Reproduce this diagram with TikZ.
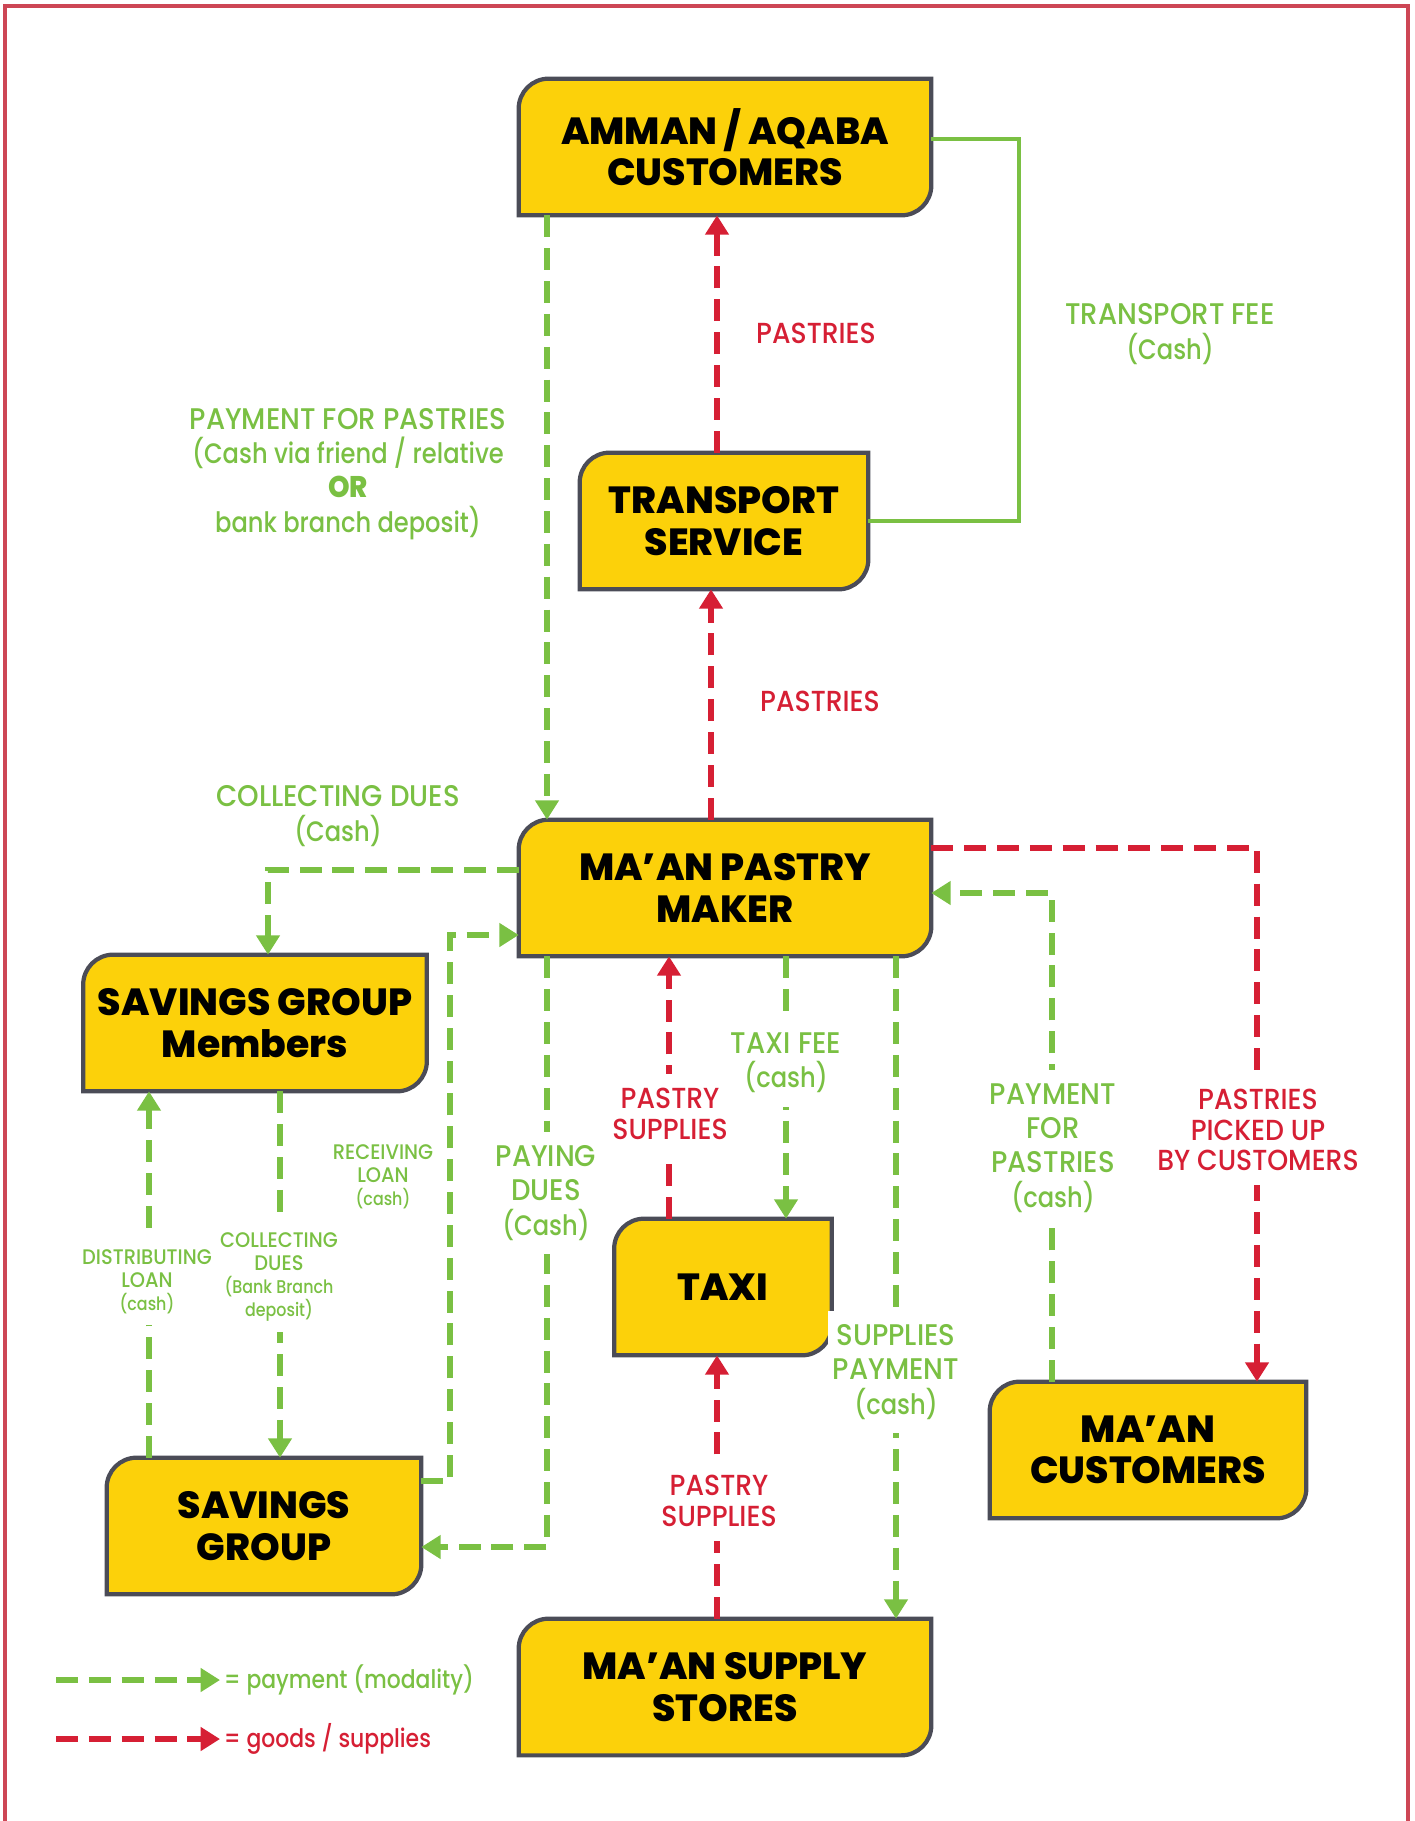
\documentclass[tikz,border=0pt]{standalone}
\usepackage{fontspec}
\setmainfont{Poppins}
\newfontfamily\boxfont{Poppins ExtraBold}
\newfontfamily\labelfont{Poppins Medium}[FakeStretch=0.92]
\newfontfamily\lcfont{Poppins Medium}[FakeStretch=0.86]
\newcommand{\lc}[1]{{\lcfont\fontsize{16}{19.5}\selectfont #1}}
\newcommand{\lcs}[1]{{\lcfont\fontsize{10.5}{13}\selectfont #1}}
\usepackage{tikz}
\usetikzlibrary{arrows.meta, positioning, backgrounds}

\definecolor{payGreen}{RGB}{122,192,67}
\definecolor{goodsRed}{RGB}{214,31,52}
\definecolor{boxYellow}{RGB}{252,209,10}
\definecolor{boxEdge}{RGB}{75,76,87}
\definecolor{frameRed}{RGB}{205,70,85}

\tikzset{
  actor/.style={
    rectangle, inner sep=0pt, minimum height=2.72cm, align=center,
    font=\boxfont\fontsize{21.5}{23.5}\selectfont
  },
  actorshape/.style={fill=boxYellow, draw=boxEdge, line width=2.4pt},
  paylabel/.style={
    text=payGreen, fill=white, align=center, inner xsep=3pt, inner ysep=8pt,
    font=\labelfont\fontsize{17}{19.5}\selectfont
  },
  goodslabel/.style={
    text=goodsRed, fill=white, align=center, inner xsep=3pt, inner ysep=8pt,
    font=\labelfont\fontsize{16.5}{17.5}\selectfont
  },
  smalllabel/.style={
    text=payGreen, fill=white, align=center, inner xsep=2pt, inner ysep=6pt,
    font=\labelfont\fontsize{12}{13}\selectfont
  },
  legendtext/.style={inner sep=2pt, anchor=west, font=\lcfont\fontsize{14.5}{18}\selectfont},
  pay/.style={-{Triangle[width=13pt,length=11pt]}, draw=payGreen,
    line width=3pt, dash pattern=on 12.5pt off 6.2pt},
  goods/.style={-{Triangle[width=13pt,length=11pt]}, draw=goodsRed,
    line width=3pt, dash pattern=on 12.5pt off 6.2pt},
  fee/.style={draw=payGreen, line width=2.3pt},
  frame/.style={draw=frameRed, line width=1.8pt},
}

\begin{document}
\begin{tikzpicture}[x=0.02cm, y=-0.02cm]
  \useasboundingbox (0,0) rectangle (1414,1821);
  \draw[frame] (5,1821) -- (5,6) -- (1408,6) -- (1408,1821);

  % actors
  \node[actor, minimum width=8.24cm] (amman) at (725,147) {AMMAN / AQABA\\CUSTOMERS};
  \node[actor, minimum width=5.76cm] (transport) at (724,521) {TRANSPORT\\SERVICE};
  \node[actor, minimum width=8.24cm] (maker) at (725,888) {MA’AN PASTRY\\MAKER};
  \node[actor, minimum width=6.86cm] (sgmem) at (255,1023) {SAVINGS GROUP\\Members};
  \node[actor, minimum width=4.34cm] (taxi) at (723,1287) {TAXI};
  \node[actor, minimum width=6.28cm] (sgroup) at (264,1526) {SAVINGS\\GROUP};
  \node[actor, minimum width=6.32cm] (mcust) at (1148,1450) {MA’AN\\CUSTOMERS};
  \node[actor, minimum width=8.24cm] (supply) at (725,1687) {MA’AN SUPPLY\\STORES};

  \begin{scope}[on background layer]
    \foreach \n in {amman,transport,maker,sgmem,taxi,sgroup,mcust,supply}
      \path[actorshape] (\n.south west) -- ([yshift=-6mm]\n.north west)
        arc[start angle=180, end angle=90, radius=6mm] -- (\n.north east)
        -- ([yshift=6mm]\n.south east) arc[start angle=0, end angle=-90, radius=6mm]
        -- cycle;
  \end{scope}

  % columns and rows of the connectors
  \coordinate (redA) at (717,0);
  \coordinate (redB) at (711,0);
  \coordinate (redC) at (669,0);
  \coordinate (pickX) at (1257,0);
  \coordinate (pickY) at (0,848);
  \coordinate (feeX) at (1019,0);
  \coordinate (feeY) at (0,139);
  \coordinate (duesX) at (547,0);
  \coordinate (collX) at (268,0);
  \coordinate (collY) at (0,870);
  \coordinate (loanX) at (450,0);
  \coordinate (loanY) at (0,1481);
  \coordinate (recvY) at (0,935);
  \coordinate (paidY) at (0,1547);
  \coordinate (distX) at (149,0);
  \coordinate (bankX) at (280,0);
  \coordinate (taxiX) at (786,0);
  \coordinate (supX) at (896,0);
  \coordinate (custX) at (1052,0);
  \coordinate (custY) at (0,893);

  % goods
  \draw[goods] (transport.north -| redA) -- (amman.south -| redA);
  \draw[goods] (maker.north -| redB) -- (transport.south -| redB);
  \draw[goods] (taxi.north -| redC) -- (maker.south -| redC);
  \draw[goods] (supply.north -| redA) -- (taxi.south -| redA);
  \draw[goods] (maker.east |- pickY) -| (mcust.north -| pickX);

  % payments
  \draw[fee] (amman.east |- feeY) -| (feeX |- transport.east) -- (transport.east);
  \draw[pay] (amman.south -| duesX) -- (maker.north -| duesX);
  \draw[pay] (maker.west |- collY) -| (sgmem.north -| collX);
  \draw[pay] (sgroup.east |- loanY) -| (loanX |- recvY) -- (maker.west |- recvY);
  \draw[pay] (maker.south -| duesX) |- (sgroup.east |- paidY);
  \draw[pay] (sgroup.north -| distX) -- (sgmem.south -| distX);
  \draw[pay] (sgmem.south -| bankX) -- (sgroup.north -| bankX);
  \draw[pay] (maker.south -| taxiX) -- (taxi.north -| taxiX);
  \draw[pay] (maker.south -| supX) -- (supply.north -| supX);
  \draw[pay] (mcust.north -| custX) |- (maker.east |- custY);

  % labels
  \node[goodslabel] (pastriesTop) at (816,333) {PASTRIES};
  \node[goodslabel] (pastriesMid) at (820,701) {PASTRIES};
  \node[paylabel] (feeLbl) at (1170,334) {TRANSPORT FEE\\\lc{(Cash)}};
  \node[paylabel] (ammanPayLbl) at (348,474)
    {PAYMENT FOR PASTRIES\\\lc{(Cash via friend / relative}\\\textbf{OR}\\\lc{bank branch deposit)}};
  \node[paylabel] (collLbl) at (338,816) {COLLECTING DUES\\\lc{(Cash)}};
  \node[smalllabel] (recvLbl) at (383,1177) {RECEIVING\\LOAN\\\lcs{(cash)}};
  \node[paylabel] (paidLbl) at (546,1193) {PAYING\\DUES\\\lc{(Cash)}};
  \node[smalllabel] (distLbl) at (147,1282) {DISTRIBUTING\\LOAN\\\lcs{(cash)}};
  \node[smalllabel] (bankLbl) at (279,1277) {COLLECTING\\DUES\\\lcs{(Bank Branch}\\\lcs{deposit)}};
  \node[goodslabel] (supplyUpLbl) at (670,1114) {PASTRY\\SUPPLIES};
  \node[paylabel] (taxiLbl) at (786,1063) {TAXI FEE\\\lc{(cash)}};
  \node[paylabel] (supPayLbl) at (896,1372) {SUPPLIES\\PAYMENT\\\lc{(cash)}};
  \node[goodslabel] (supplyLowLbl) at (719,1501) {PASTRY\\SUPPLIES};
  \node[paylabel] (custPayLbl) at (1053,1148) {PAYMENT\\FOR\\PASTRIES\\\lc{(cash)}};
  \node[goodslabel] (pickLbl) at (1258,1130) {PASTRIES\\PICKED UP\\BY CUSTOMERS};

  % legend
  \coordinate (legPayStart) at (56,1680);
  \coordinate (legGoodsStart) at (56,1739);
  \node[legendtext, text=payGreen] (legPay) at (220,1680) {= payment (modality)};
  \node[legendtext, text=goodsRed] (legGoods) at (220,1739) {= goods / supplies};
  \draw[pay] (legPayStart) -- (legPay.west);
  \draw[goods] (legGoodsStart) -- (legGoods.west);
\end{tikzpicture}
\end{document}
